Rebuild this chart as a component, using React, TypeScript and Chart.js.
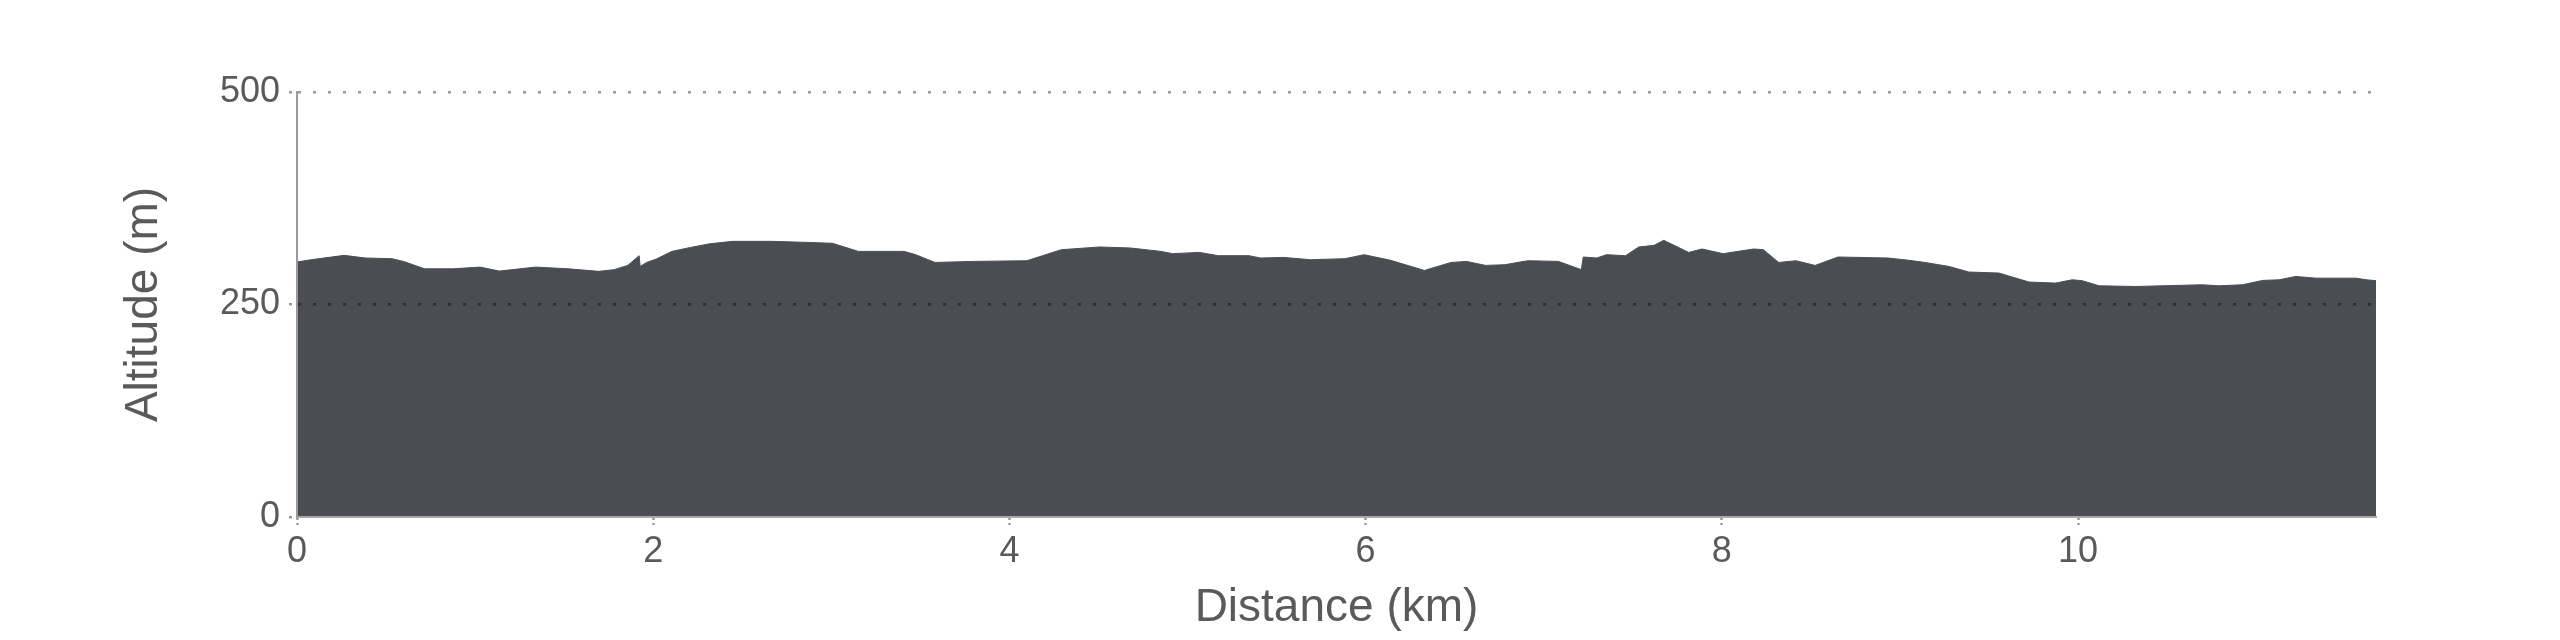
import React, { useEffect, useRef } from "react";
import { Chart, registerables } from "chart.js";

Chart.register(...registerables);

const distanceKm: number[] = [
  0.0, 0.08, 0.265, 0.383, 0.533, 0.598, 0.716, 0.877, 1.028, 1.136, 1.34, 1.523, 1.695, 1.781, 1.857, 1.921, 1.927,
  1.963, 2.018, 2.104, 2.211, 2.319, 2.447, 2.663, 2.878, 3.007, 3.152, 3.41, 3.474, 3.582, 3.797, 4.098, 4.163,
  4.292, 4.507, 4.679, 4.851, 4.916, 5.066, 5.174, 5.346, 5.41, 5.54, 5.69, 5.884, 5.992, 6.14, 6.33, 6.48, 6.566,
  6.674, 6.781, 6.91, 7.083, 7.211, 7.222, 7.298, 7.352, 7.459, 7.534, 7.62, 7.674, 7.814, 7.889, 8.007, 8.179,
  8.233, 8.319, 8.416, 8.524, 8.653, 8.933, 9.05, 9.14, 9.275, 9.387, 9.556, 9.725, 9.874, 9.968, 10.024, 10.118,
  10.324, 10.699, 10.79, 10.923, 11.036, 11.13, 11.223, 11.336, 11.56, 11.617, 11.673,
];

const altitudeM: number[] = [
  300, 302.7, 307.8, 304.7, 303.9, 300.7, 292, 292, 294, 289.3, 294, 292, 289, 291, 296, 307.4, 294.8,
  299.5, 303.5, 312.5, 317.2, 321.5, 324.3, 324.3, 323, 322, 312.5, 312.5, 308.6, 299.5, 300.7, 301.5, 305.9,
  314.5, 317.7, 316.5, 312.5, 309.8, 311.3, 307.4, 307.4, 304.7, 305.4, 302.7, 303.9, 308.6, 302, 290.1, 299.5, 300.7,
  296, 296.8, 301.5, 300.7, 291, 305.9, 304.7, 308.6, 307.4, 317.7, 319.6, 325.5, 311.3, 315.3, 309.8, 315.3,
  314.5, 299.5, 301.5, 296, 305.9, 304.7, 302, 299.5, 294.8, 288.2, 287, 276.4, 275.2, 279.1, 278, 272,
  271.2, 273.2, 272, 273.2, 278.3, 279.1, 283, 281, 281, 279.1, 278,
];

const xTickStep = 2;
const yTicks: number[] = [0, 250, 500];
const xTitle = "Distance (km)";
const yTitle = "Altitude (m)";

export default function App() {
  const canvasRef = useRef<HTMLCanvasElement | null>(null);

  useEffect(() => {
    if (!canvasRef.current) return;
    const points = distanceKm.map((x, i) => ({ x, y: altitudeM[i] }));
    const family = "'Liberation Sans', Arial, sans-serif";
    const textColor = "#5a5a5a";
    const gridColor = "rgba(0,0,0,0.4)";

    const chart = new Chart(canvasRef.current, {
      type: "line",
      data: {
        datasets: [
          {
            data: points,
            fill: "origin",
            backgroundColor: "#4a4d52",
            borderColor: "#4a4d52",
            borderWidth: 1,
            pointRadius: 0,
            tension: 0,
          },
        ],
      },
      options: {
        animation: false,
        responsive: true,
        maintainAspectRatio: false,
        layout: { padding: { top: 92, right: 184, left: 0, bottom: 0 } },
        plugins: { legend: { display: false }, tooltip: { enabled: false } },
        scales: {
          x: {
            type: "linear",
            min: 0,
            max: distanceKm[distanceKm.length - 1],
            afterBuildTicks: (s: any) => {
              s.ticks = s.ticks.filter((t: any) => Math.abs(t.value / xTickStep - Math.round(t.value / xTickStep)) < 1e-6);
            },
            afterFit: (s: any) => {
              s.height = 123;
            },
            ticks: {
              stepSize: xTickStep,
              color: textColor,
              font: { family, size: 36 },
              padding: 5,
              maxRotation: 0,
            },
            grid: {
              drawOnChartArea: false,
              drawTicks: true,
              tickLength: 8,
              tickColor: gridColor,
              tickWidth: 2.5,
              tickBorderDash: [2, 3],
              z: 1,
            },
            border: { display: true, color: "#a8a8a8", width: 2, z: 1 },
            title: {
              display: true,
              text: xTitle,
              color: textColor,
              font: { family, size: 46 },
              padding: { top: 0, bottom: 4 },
            },
          },
          y: {
            type: "linear",
            min: 0,
            max: 500,
            afterBuildTicks: (s: any) => {
              s.ticks = yTicks.map((v) => ({ value: v }));
            },
            afterFit: (s: any) => {
              s.width = 297;
            },
            ticks: {
              color: textColor,
              font: { family, size: 36 },
              padding: 9,
            },
            grid: {
              color: (ctx: any) => (ctx.tick && ctx.tick.value === 0 ? "rgba(0,0,0,0)" : gridColor),
              lineWidth: 2.5,
              tickLength: 8,
              tickBorderDash: [3, 12],
              tickColor: gridColor,
              tickWidth: 2.5,
              z: 1,
            },
            border: { display: true, color: "#999999", width: 2, z: 1, dash: [3, 12] },
            title: {
              display: true,
              text: yTitle,
              color: textColor,
              font: { family, size: 46 },
              padding: { top: 117, bottom: 0 },
            },
          },
        },
      },
    });
    return () => chart.destroy();
  }, []);

  return (
    <div style={{ position: "fixed", left: 0, top: 0, width: 2560, height: 640, background: "#fff" }}>
      <canvas ref={canvasRef} />
    </div>
  );
}
